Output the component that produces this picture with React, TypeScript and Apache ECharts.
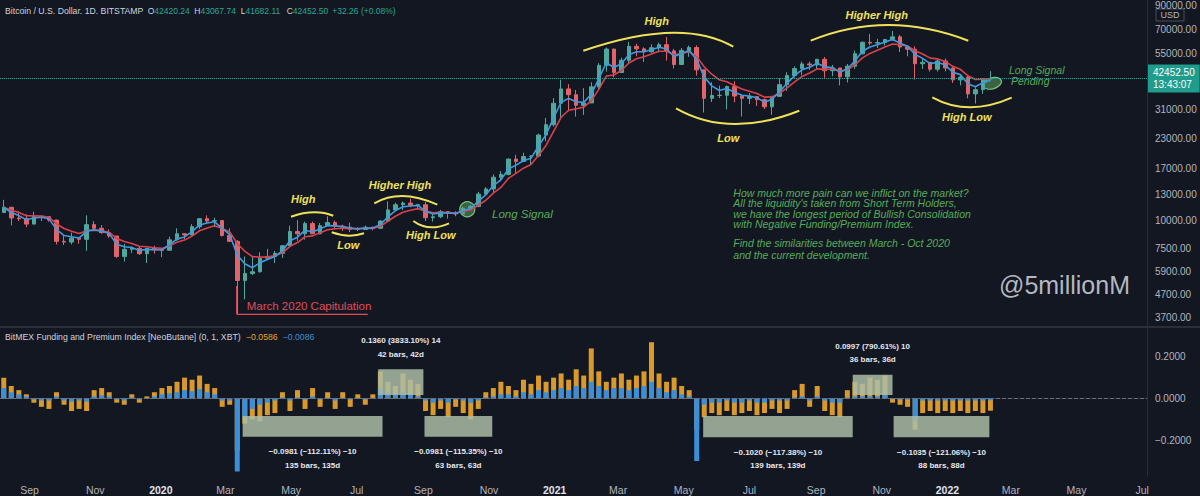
import React, { useEffect, useRef } from 'react';
import * as echarts from 'echarts';

// ---------- axis / time frame ----------
const START_YEAR = 2019;
const START_MONTH = 7; // August (0-based)
const START_DAY = 5; // Monday 2019-08-05
const DAY_COUNT = 1066;
const WEEK_LEN = 7;
const MONTH_NAMES = ['Jan', 'Feb', 'Mar', 'Apr', 'May', 'Jun', 'Jul', 'Aug', 'Sep', 'Oct', 'Nov', 'Dec'];
const LABEL_MONTHS = ['01', '03', '05', '07', '09', '11'];

// ---------- BTC/USD weekly candles (week starting 2019-08-05) ----------
const FIRST_OPEN = 10800;
const weeklyHigh = [
  12300, 11450, 10950, 10620, 10900, 10450, 10350, 10050, 8500, 8800, 8420, 10500, 9900, 9500, 9100, 8500,
  7850, 7650, 7650, 7500, 7700, 7500, 8450, 9200, 8750, 9600, 10200, 10500, 10250, 10000, 9200, 8150,
  6900, 6950, 7200, 7450, 7300, 7750, 9450, 10000, 9850, 9850, 9700, 10400, 9950, 9550, 9750, 9300,
  9450, 9350, 10000, 12100, 11950, 12100, 12450, 11800, 12050, 10600, 11100, 10950, 10950, 11450, 11700, 13350,
  14000, 15950, 16500, 18800, 19500, 19900, 19400, 24200, 28400, 34800, 41950, 40100, 37800, 38500, 40900, 49700,
  58300, 57500, 52600, 61800, 60600, 58400, 60200, 61300, 64900, 57500, 58000, 59500, 59600, 46600, 40900, 39500,
  39500, 41300, 36000, 36600, 35100, 34600, 35500, 42600, 45300, 48100, 50500, 50500, 51900, 52900, 48800, 47300,
  49300, 56500, 62000, 67000, 63700, 63500, 69000, 66300, 59300, 59000, 51900, 50000, 51900, 52100, 47600, 44400,
  43500, 38900, 42600, 45800,
];
const weeklyLow = [
  10800, 9470, 9900, 9320, 9600, 9900, 9850, 7800, 7750, 7800, 7850, 7300, 9000, 8700, 8350, 6800,
  6550, 7150, 7000, 6450, 7100, 6850, 7350, 8100, 8250, 8550, 9150, 9700, 9300, 8450, 8000, 3850,
  4450, 5700, 5850, 6750, 6450, 6800, 7650, 8100, 8200, 8700, 8650, 9400, 9100, 8950, 8850, 8950,
  9100, 9000, 9150, 9900, 11000, 11100, 11400, 11150, 9900, 9850, 10200, 10150, 10400, 10550, 11200, 11400,
  12800, 13200, 14850, 15800, 16200, 18100, 17600, 19000, 22350, 26000, 28000, 30400, 28800, 29300, 33400, 38000,
  45600, 43000, 45000, 49300, 53300, 50300, 55300, 55500, 51000, 47000, 48800, 53000, 43800, 30000, 33400, 34800,
  31000, 33300, 28800, 32700, 32100, 31100, 29300, 35200, 37500, 42900, 43900, 46400, 46600, 42800, 43500, 39600,
  40800, 46900, 54200, 59600, 58000, 59400, 62300, 55700, 53300, 42000, 46800, 45600, 45600, 45700, 40600, 39600,
  34700, 32900, 36300, 41700,
];
const weeklyClose = [
  11400, 10220, 10140, 9600, 10400, 10360, 10000, 8050, 7990, 8320, 8220, 9550, 9200, 8800, 8500, 6900,
  7420, 7500, 7100, 7500, 7380, 7350, 8180, 8700, 8600, 9350, 10150, 9900, 9950, 8550, 8050, 5400,
  5800, 5900, 6780, 6900, 7120, 7700, 8900, 8700, 9650, 8700, 9450, 9750, 9400, 9300, 9100, 9080,
  9300, 9200, 9900, 11100, 11700, 11900, 11650, 11700, 10250, 10350, 10900, 10750, 10650, 11300, 11500, 13050,
  13750, 15500, 15950, 18650, 18200, 19150, 19250, 23850, 26500, 33000, 38200, 36000, 32300, 33100, 39000, 48600,
  57400, 45200, 51200, 59000, 57500, 55800, 58200, 60000, 56300, 49000, 56600, 58300, 46400, 34700, 35700, 35800,
  39100, 35500, 34700, 35300, 34250, 31800, 35400, 39900, 43800, 47000, 49300, 48800, 51700, 46000, 47300, 43200,
  48200, 54700, 61500, 61000, 61300, 63300, 65000, 58600, 57300, 49400, 50100, 46700, 50800, 47300, 41900, 43100,
  36300, 37900, 42400, 42450,
];

// ---------- BitMEX funding & premium index (weekly readings) ----------
const premiumIndex = [
  0.10, 0.06, 0.04, 0.02, -0.02, -0.04, -0.05, 0.03, -0.03, -0.06, -0.05, -0.06, 0.04, 0.05, 0.03, -0.02,
  -0.03, 0.02, -0.02, 0.01, 0.03, 0.05, 0.06, 0.08, 0.10, 0.09, 0.11, 0.07, 0.05, -0.04, -0.03, -0.25,
  -0.12, -0.10, -0.11, -0.08, -0.07, 0.03, -0.06, 0.04, -0.05, 0.05, -0.04, 0.03, -0.05, 0.03, -0.04, 0.02,
  -0.03, 0.02, 0.13, 0.08, 0.06, 0.12, 0.09, 0.07, -0.06, -0.08, -0.05, -0.09, -0.04, -0.07, -0.10, -0.05,
  0.03, 0.05, 0.08, 0.06, 0.04, 0.09, 0.07, 0.11, 0.08, 0.10, 0.12, 0.09, 0.14, 0.11, 0.24, 0.13,
  0.08, 0.10, 0.12, 0.09, 0.11, 0.13, 0.27, 0.12, 0.08, 0.10, 0.06, 0.04, -0.15, -0.09, -0.07, -0.08,
  -0.06, -0.08, -0.07, -0.06, -0.08, -0.07, -0.05, -0.07, -0.05, 0.04, 0.07, -0.04, 0.06, -0.06, -0.08, -0.09,
  0.04, 0.08, 0.07, 0.10, 0.09, 0.11, -0.02, -0.03, -0.04, -0.15, -0.07, -0.06, -0.07, -0.06, -0.07, -0.06,
  -0.07, -0.06, -0.07, -0.0586,
];
const fundingRate = [
  0.05, 0.03, 0.02, 0.01, -0.005, -0.01, -0.01, 0.01, -0.01, -0.015, -0.01, -0.015, 0.01, 0.015, 0.01, -0.005,
  -0.01, 0.005, -0.005, 0.003, 0.01, 0.02, 0.025, 0.03, 0.04, 0.035, 0.045, 0.03, 0.02, -0.01, -0.01, -0.35,
  -0.09, -0.05, -0.03, -0.02, -0.01, 0.005, -0.01, 0.005, -0.005, 0.01, -0.005, 0.003, -0.01, 0.003, -0.005, 0.002,
  -0.005, 0.003, 0.05, 0.03, 0.02, 0.03, 0.02, 0.01, -0.01, -0.02, -0.01, -0.02, -0.005, -0.01, -0.02, -0.01,
  0.005, 0.01, 0.02, 0.02, 0.01, 0.03, 0.02, 0.04, 0.03, 0.04, 0.05, 0.04, 0.06, 0.05, 0.08, 0.06,
  0.04, 0.05, 0.05, 0.04, 0.05, 0.06, 0.08, 0.05, 0.03, 0.04, 0.02, 0.01, -0.30, -0.03, -0.02, -0.02,
  -0.01, -0.02, -0.02, -0.01, -0.02, -0.02, -0.01, -0.01, -0.01, 0.005, 0.01, -0.01, 0.01, -0.01, -0.02, -0.02,
  0.005, 0.01, 0.01, 0.01, 0.01, 0.02, -0.003, -0.005, -0.005, -0.11, -0.01, -0.01, -0.01, -0.01, -0.01, -0.01,
  -0.01, -0.01, -0.01, -0.0086,
];

// ---------- ticks & readouts ----------
const priceTicks = [90000, 70000, 55000, 31000, 23000, 17000, 13000, 10000, 7500, 5900, 4700, 3700];
const fundingTicks = [0.2, 0, -0.2];
const LAST_PRICE = 42452.5;
const COUNTDOWN = '13:43:07';
const headerKeys = ['O', 'H', 'L', 'C'];
const headerValues = ['42420.24', '43067.74', '41682.11', '42452.50'];
const headerChange = '+32.26 (+0.08%)';
const indicatorValues = ['−0.0586', '−0.0086'];

// ---------- measured ranges on the funding pane ----------
const rangeStart = ['2020-03-17', '2020-09-02', '2020-07-21', '2021-10-05', '2021-05-19', '2021-11-12'];
const rangeEnd = ['2020-07-25', '2020-11-04', '2020-09-01', '2021-11-11', '2021-10-05', '2022-02-09'];
const rangeLow = [-0.183, -0.183, 0.017, 0.017, -0.186, -0.186];
const rangeHigh = [-0.084, -0.084, 0.14, 0.114, -0.084, -0.084];
const rangeLine1 = ['−0.0981 (−112.11%) −10', '−0.0981 (−115.35%) −10', '0.1360 (3833.10%) 14', '0.0997 (790.61%) 10', '−0.1020 (−117.38%) −10', '−0.1035 (−121.06%) −10'];
const rangeLine2 = ['135 bars, 135d', '63 bars, 63d', '42 bars, 42d', '36 bars, 36d', '139 bars, 139d', '88 bars, 88d'];

const noteLines = [
  'How much more pain can we inflict on the market?',
  "All the liquidity's taken from Short Term Holders,",
  'we have the longest period of Bullish Consolidation',
  'with Negative Funding/Premium Index.',
  '',
  'Find the similarities between March - Oct 2020',
  'and the current development.',
];

const BG = '#131722';
const GRID_LINE = '#2a2e39';
const AXIS_TEXT = '#b2b5be';
const YELLOW = '#efe15a';
const GREEN = '#56ad58';
const RED = '#e04b58';
const TEAL_TEXT = '#2aa792';
const FONT = "'Liberation Sans', 'Noto Sans', sans-serif";

function pad(n: number) {
  return n < 10 ? '0' + n : '' + n;
}

function buildDates(): string[] {
  const out: string[] = [];
  for (let i = 0; i < DAY_COUNT; i++) {
    const d = new Date(Date.UTC(START_YEAR, START_MONTH, START_DAY + i));
    out.push(d.getUTCFullYear() + '-' + pad(d.getUTCMonth() + 1) + '-' + pad(d.getUTCDate()));
  }
  return out;
}

function ema(values: number[], n: number): number[] {
  const a = 2 / (n + 1);
  let prev = values[0];
  return values.map((v, i) => {
    if (i === 0) return v;
    prev = a * v + (1 - a) * prev;
    return prev;
  });
}

function arc(x1: number, y1: number, x2: number, y2: number, ax: number, ay: number, color: string) {
  const cpx = 2 * ax - (x1 + x2) / 2;
  const cpy = 2 * ay - (y1 + y2) / 2;
  return {
    type: 'bezierCurve',
    silent: true,
    shape: { x1, y1, x2, y2, cpx1: cpx, cpy1: cpy },
    style: { stroke: color, lineWidth: 2, fill: 'none' },
  };
}

function label(text: string, x: number, y: number, color: string, size: number, extra: any = {}) {
  return {
    type: 'text',
    silent: true,
    x,
    y,
    style: {
      text,
      fill: color,
      font: `${extra.style || 'italic'} ${extra.weight || 'bold'} ${size}px ${FONT}`,
      align: extra.align || 'center',
      verticalAlign: 'middle',
    },
  };
}

function richText(text: string, x: number, y: number, rich: any) {
  return { type: 'text', silent: true, x, y, style: { text, verticalAlign: 'middle', rich } };
}

export default function App() {
  const ref = useRef<HTMLDivElement>(null);

  useEffect(() => {
    if (!ref.current) return;
    const chart = echarts.init(ref.current, null, { renderer: 'svg' });
    const dates = buildDates();
    const weekX = weeklyClose.map((_, k) => k * WEEK_LEN + 3);
    const opens = weeklyClose.map((_, k) => (k === 0 ? FIRST_OPEN : weeklyClose[k - 1]));
    const candles = weeklyClose.map((c, k) => [weekX[k], opens[k], c, weeklyLow[k], weeklyHigh[k]]);
    const fast = ema(weeklyClose, 3);
    const slow = ema(weeklyClose, 6);

    const rangeRows = rangeStart.map((s, i) => [dates.indexOf(s), dates.indexOf(rangeEnd[i]), rangeLow[i], rangeHigh[i], i]);

    const renderRange = (_params: any, api: any) => {
      const i = api.value(4);
      const hi = api.value(3);
      const tl = api.coord([api.value(0), hi]);
      const br = api.coord([api.value(1), api.value(2)]);
      const positive = hi > 0;
      const cx = (tl[0] + br[0]) / 2;
      const y1 = positive ? tl[1] - 28.5 : br[1] + 15;
      const y2 = positive ? tl[1] - 14.8 : br[1] + 28.5;
      const textStyle = (text: string, y: number) => ({
        type: 'text',
        style: {
          text,
          x: cx,
          y,
          fill: '#e6e8ee',
          font: `bold 8px ${FONT}`,
          align: 'center',
          verticalAlign: 'middle',
        },
      });
      return {
        type: 'group',
        children: [
          {
            type: 'rect',
            shape: { x: tl[0], y: tl[1], width: br[0] - tl[0], height: br[1] - tl[1] },
            style: { fill: 'rgba(172,188,165,0.85)' },
          },
          textStyle(rangeLine1[i], y1),
          textStyle(rangeLine2[i], y2),
        ],
      };
    };

    const headerRich = {
      k: { fill: '#d1d4dc', font: `8.5px ${FONT}` },
      v: { fill: TEAL_TEXT, font: `8.5px ${FONT}` },
    };
    const headerX = [147.7, 194.3, 240.7, 286.7];

    const graphics: any[] = [
      // pane separator
      { type: 'line', silent: true, shape: { x1: 0, y1: 327, x2: 1200, y2: 327 }, style: { stroke: GRID_LINE, lineWidth: 2 } },
      // header
      { type: 'text', silent: true, x: 5, y: 11, style: { text: 'Bitcoin / U.S. Dollar. 1D. BITSTAMP', fill: '#d1d4dc', font: `8.7px ${FONT}`, verticalAlign: 'middle' } },
      ...headerKeys.map((k, i) => richText(`{k|${k}}{v|${headerValues[i]}}`, headerX[i], 11, headerRich)),
      { type: 'text', silent: true, x: 332.3, y: 11, style: { text: headerChange, fill: TEAL_TEXT, font: `8.5px ${FONT}`, verticalAlign: 'middle' } },
      // indicator header
      { type: 'text', silent: true, x: 5, y: 337, style: { text: 'BitMEX Funding and Premium Index [NeoButane] (0, 1, XBT)', fill: '#d1d4dc', font: `8.7px ${FONT}`, verticalAlign: 'middle' } },
      { type: 'text', silent: true, x: 246, y: 337, style: { text: indicatorValues[0], fill: '#e3a52c', font: `8.7px ${FONT}`, verticalAlign: 'middle' } },
      { type: 'text', silent: true, x: 282.7, y: 337, style: { text: indicatorValues[1], fill: '#3d8fd6', font: `8.7px ${FONT}`, verticalAlign: 'middle' } },
      // USD box
      { type: 'rect', silent: true, shape: { x: 1156, y: 9, width: 28, height: 12 }, style: { fill: BG, stroke: '#4a4e5a' } },
      { type: 'text', silent: true, x: 1170, y: 15, style: { text: 'USD', fill: AXIS_TEXT, font: `9px ${FONT}`, align: 'center', verticalAlign: 'middle' } },
      // yellow swing annotations
      arc(291, 216.7, 333.3, 215.7, 313.3, 212.3, YELLOW),
      arc(331.7, 232.3, 364, 233.3, 348.3, 235.7, YELLOW),
      arc(374.3, 203.3, 437.3, 204.7, 403.3, 196, YELLOW),
      arc(413.3, 221, 449, 223.3, 430, 227.3, YELLOW),
      arc(583.3, 50.7, 733.3, 46.7, 670, 32.7, YELLOW),
      arc(676, 108.3, 799.3, 110.7, 733.3, 124, YELLOW),
      arc(810.7, 40.7, 968.3, 40.7, 888.3, 25, YELLOW),
      arc(932.3, 97.3, 1011.7, 97.7, 970, 107.3, YELLOW),
      label('High', 303.3, 199.3, YELLOW, 11),
      label('Low', 348.3, 245, YELLOW, 11),
      label('Higher High', 400, 185, YELLOW, 11),
      label('High Low', 430.7, 235.3, YELLOW, 11),
      label('High', 656.7, 20.7, YELLOW, 11),
      label('Low', 728.3, 138.3, YELLOW, 11),
      label('Higher High', 876.7, 14.7, YELLOW, 11),
      label('High Low', 966.7, 116.7, YELLOW, 11),
      // long signal markers
      { type: 'circle', silent: true, shape: { cx: 467.3, cy: 209.3, r: 7.5 }, style: { fill: 'rgba(110,190,110,0.45)', stroke: '#7bc47b', lineWidth: 1.2 } },
      label('Long Signal', 492, 214, GREEN, 11.5, { weight: 'normal', align: 'left' }),
      { type: 'ellipse', silent: true, x: 992.3, y: 83.3, rotation: 0.3, shape: { cx: 0, cy: 0, rx: 9.5, ry: 5.5 }, style: { fill: 'rgba(110,190,110,0.45)', stroke: '#7bc47b', lineWidth: 1.2 } },
      label('Long Signal', 1009, 69.5, GREEN, 10.5, { weight: 'normal', align: 'left' }),
      label('Pending', 1011, 81, GREEN, 10.5, { weight: 'normal', align: 'left' }),
      // capitulation marker
      { type: 'line', silent: true, shape: { x1: 236.7, y1: 286, x2: 236.7, y2: 314.3 }, style: { stroke: RED, lineWidth: 1.3 } },
      { type: 'line', silent: true, shape: { x1: 236.7, y1: 314.3, x2: 367.7, y2: 314.3 }, style: { stroke: RED, lineWidth: 1.3 } },
      label('March 2020 Capitulation', 246.7, 306, RED, 11.5, { style: 'normal', weight: 'normal', align: 'left' }),
      // watermark
      label('@5millionM', 1064.5, 285, 'rgba(205,208,216,0.88)', 25, { style: 'normal', weight: 'normal' }),
    ];
    noteLines.forEach((t, i) => {
      const y = i < 4 ? 192.7 + i * 10.5 : 243.3 + (i - 5) * 11.7;
      if (t) graphics.push(label(t, 733.3, y, GREEN, 10.5, { weight: 'normal', align: 'left' }));
    });

    const option: any = {
      animation: false,
      backgroundColor: BG,
      textStyle: { fontFamily: FONT },
      grid: [
        { left: 0, right: 53, top: 0, height: 326 },
        { left: 0, right: 53, top: 328, height: 148 },
      ],
      xAxis: [
        {
          type: 'category',
          gridIndex: 0,
          data: dates,
          axisLine: { show: false },
          axisTick: { show: false },
          axisLabel: { show: false },
          splitLine: { show: false },
        },
        {
          type: 'category',
          gridIndex: 1,
          data: dates,
          axisLine: { show: true, lineStyle: { color: GRID_LINE } },
          axisTick: { show: false },
          splitLine: { show: false },
          axisLabel: {
            show: true,
            color: AXIS_TEXT,
            fontSize: 10.5,
            margin: 8,
            hideOverlap: false,
            interval: (_i: number, v: string) => v.slice(8) === '01' && LABEL_MONTHS.indexOf(v.slice(5, 7)) >= 0,
            formatter: (v: string) => {
              const m = v.slice(5, 7);
              if (m === '01') return '{y|' + v.slice(0, 4) + '}';
              return MONTH_NAMES[parseInt(m, 10) - 1];
            },
            rich: { y: { color: '#e0e3eb', fontSize: 10.5, fontWeight: 'bold' } },
          },
        },
      ],
      yAxis: [
        {
          type: 'log',
          logBase: 10,
          gridIndex: 0,
          position: 'right',
          min: 3391,
          max: 94340,
          axisLine: { show: true, lineStyle: { color: GRID_LINE } },
          axisTick: { show: false },
          splitLine: { show: false },
          axisLabel: {
            show: true,
            customValues: priceTicks,
            color: AXIS_TEXT,
            fontSize: 10,
            margin: 8,
            formatter: (v: number) => v.toFixed(2),
          },
        },
        {
          type: 'value',
          gridIndex: 1,
          position: 'right',
          min: -0.3717,
          max: 0.338,
          axisLine: { show: true, lineStyle: { color: GRID_LINE } },
          axisTick: { show: false },
          splitLine: { show: false },
          axisLabel: {
            show: true,
            customValues: fundingTicks,
            color: AXIS_TEXT,
            fontSize: 10,
            margin: 8,
            formatter: (v: number) => (v < 0 ? '−' : '') + Math.abs(v).toFixed(4),
          },
        },
      ],
      series: [
        {
          type: 'candlestick',
          xAxisIndex: 0,
          yAxisIndex: 0,
          data: candles,
          encode: { x: 0, y: [1, 2, 3, 4] },
          barWidth: 4,
          itemStyle: {
            color: '#4fa79d',
            color0: '#e0646c',
            borderColor: '#4fa79d',
            borderColor0: '#e0646c',
            borderWidth: 1,
          },
          markLine: {
            silent: true,
            symbol: 'none',
            data: [{ yAxis: LAST_PRICE }],
            lineStyle: { color: '#26a69a', type: 'dotted', width: 1 },
            label: {
              show: true,
              position: 'end',
              distance: 1,
              formatter: LAST_PRICE.toFixed(2) + '\n' + COUNTDOWN,
              backgroundColor: '#1f9c8c',
              color: '#ffffff',
              fontSize: 10,
              lineHeight: 12,
              padding: [2, 5],
            },
          },
        },
        {
          type: 'line',
          xAxisIndex: 0,
          yAxisIndex: 0,
          data: weekX.map((x, k) => [x, slow[k]]),
          showSymbol: false,
          lineStyle: { color: '#d9424c', width: 1.6 },
          z: 3,
        },
        {
          type: 'line',
          xAxisIndex: 0,
          yAxisIndex: 0,
          data: weekX.map((x, k) => [x, fast[k]]),
          showSymbol: false,
          lineStyle: { color: '#3f9be0', width: 1.6 },
          z: 3,
        },
        {
          type: 'bar',
          xAxisIndex: 1,
          yAxisIndex: 1,
          data: weekX.map((x, k) => [x, premiumIndex[k]]),
          barWidth: 5,
          barGap: '-100%',
          itemStyle: { color: '#d99a2b' },
        },
        {
          type: 'bar',
          xAxisIndex: 1,
          yAxisIndex: 1,
          data: weekX.map((x, k) => [x, fundingRate[k]]),
          barWidth: 5,
          barGap: '-100%',
          itemStyle: { color: '#3b8fd8' },
          markLine: {
            silent: true,
            symbol: 'none',
            data: [{ yAxis: 0 }],
            lineStyle: { color: '#6b6f7a', type: 'dashed', width: 1 },
            label: { show: false },
          },
        },
        {
          type: 'custom',
          xAxisIndex: 1,
          yAxisIndex: 1,
          silent: true,
          z: 5,
          dimensions: [
            { name: 'start', type: 'number' },
            { name: 'end', type: 'number' },
            { name: 'low', type: 'number' },
            { name: 'high', type: 'number' },
            { name: 'idx', type: 'number' },
          ],
          encode: { x: [0, 1], y: [2, 3] },
          data: rangeRows,
          renderItem: renderRange,
        },
      ],
      graphic: graphics,
    };

    chart.setOption(option);
    return () => chart.dispose();
  }, []);

  return <div ref={ref} style={{ position: 'fixed', left: 0, top: 0, width: 1200, height: 496 }} />;
}
